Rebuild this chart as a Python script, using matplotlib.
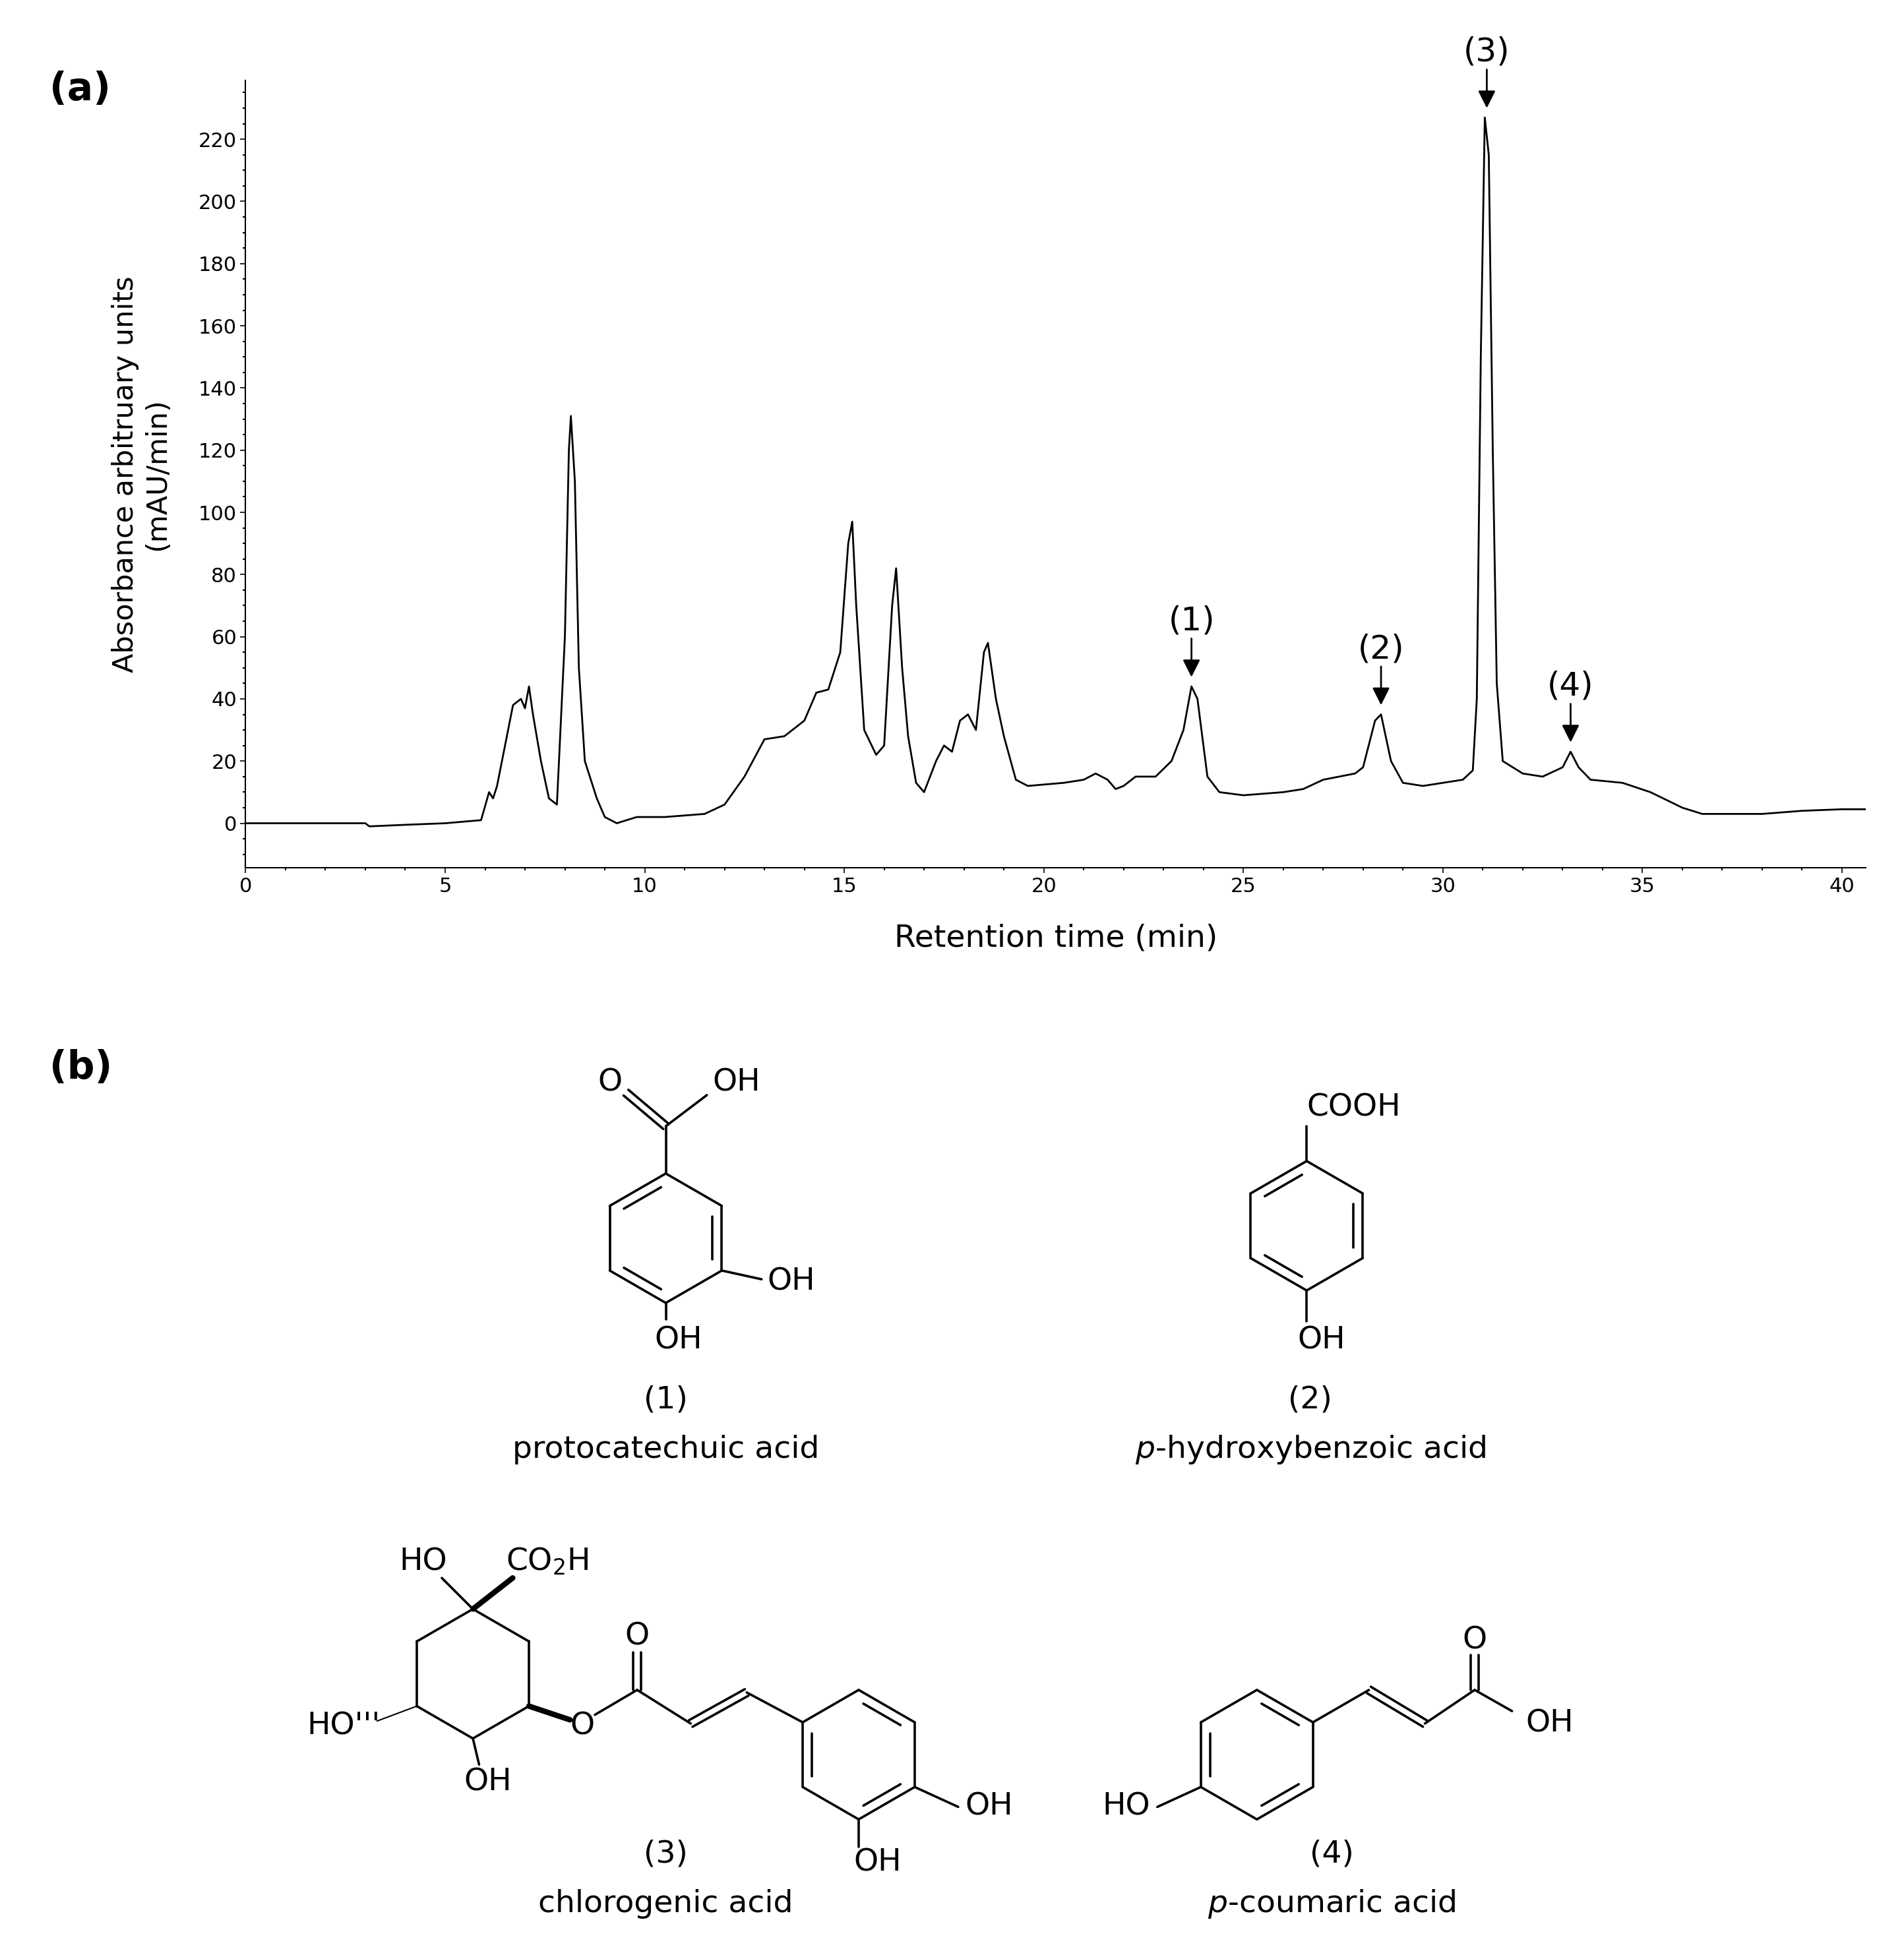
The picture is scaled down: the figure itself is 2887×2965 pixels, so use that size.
import matplotlib
matplotlib.use("Agg")
import matplotlib.pyplot as plt
import numpy as np

time_min = [0,3.0,3.1,4,5,5.9,6.1,6.2,6.3,6.5,6.7,6.9,7.0,7.1,7.2,7.4,7.6,7.8,8.0,8.1,8.15,8.25,8.35,8.5,8.8,9.0,9.3,9.8,10.5,11.5,12.0,12.5,13.0,13.5,14.0,14.3,14.6,14.9,15.1,15.2,15.3,15.5,15.8,16.0,16.2,16.3,16.45,16.6,16.8,17.0,17.3,17.5,17.7,17.9,18.1,18.3,18.5,18.6,18.8,19.0,19.3,19.6,20.5,21.0,21.3,21.6,21.8,22.0,22.3,22.8,23.2,23.5,23.7,23.85,24.1,24.4,25,26,26.5,27,27.4,27.8,28.0,28.3,28.45,28.7,29.0,29.5,30,30.5,30.75,30.85,30.95,31.05,31.15,31.25,31.35,31.5,32,32.5,33.0,33.2,33.4,33.7,34.5,35.2,36,36.5,38,39,40,40.6]
absorbance = [0,0,-1,-0.5,0,1,10,8,12,25,38,40,37,44,35,20,8,6,60,120,131,110,50,20,8,2,0,2,2,3,6,15,27,28,33,42,43,55,90,97,70,30,22,25,70,82,50,28,13,10,20,25,23,33,35,30,55,58,40,28,14,12,13,14,16,14,11,12,15,15,20,30,44,40,15,10,9,10,11,14,15,16,18,33,35,20,13,12,13,14,17,40,150,227,215,120,45,20,16,15,18,23,18,14,13,10,5,3,3,4,4.5,4.5]
peak_labels = ["(1)", "(2)", "(3)", "(4)"]
peak_times = [23.7, 28.45, 31.1, 33.2]
peak_tips = [47, 38, 230, 26]
peak_text_y = [60, 51, 243, 39]

W, H = 2887, 2965
fig = plt.figure(figsize=(W/100, H/100), dpi=100)
ax = fig.add_axes([0.129, 0.556, 0.851, 0.403])
ax.plot(time_min, absorbance, color="black", lw=2)
ax.set_xlim(0, 40.6)
ax.set_ylim(-14.4, 239)
for s in ["top", "right"]:
    ax.spines[s].set_visible(False)
ax.spines["left"].set_linewidth(1.5)
ax.spines["bottom"].set_linewidth(1.5)
ax.set_xticks(range(0, 41, 5))
ax.set_xticks(range(0, 41, 1), minor=True)
ax.set_yticks(range(0, 221, 20))
ax.set_yticks(range(-10, 236, 5), minor=True)
ax.tick_params(labelsize=22, length=6, width=1.2)
ax.tick_params(which="minor", length=3, width=1.5)
ax.set_xlabel("Retention time (min)", fontsize=34, labelpad=30)
ax.set_ylabel("Absorbance arbitruary units\n(mAU/min)", fontsize=31, labelpad=30)
for lab, t, tip, ty in zip(peak_labels, peak_times, peak_tips, peak_text_y):
    ax.annotate(lab, xy=(t, tip), xytext=(t, ty), ha="center", va="bottom", fontsize=36,
                annotation_clip=False,
                arrowprops=dict(arrowstyle="-|>", color="black", lw=2, mutation_scale=40,
                                shrinkA=0, shrinkB=0))

ov = fig.add_axes([0, 0, 1, 1])
ov.set_xlim(0, 1530); ov.set_ylim(1571, 0); ov.axis("off")
ov.patch.set_alpha(0)
fs = 34
ov.text(40, 72, "(a)", fontsize=42, fontweight="bold", va="center")
ov.text(40, 858, "(b)", fontsize=42, fontweight="bold", va="center")
LW = 2.6

def line(p, q, lw=LW):
    ov.plot([p[0], q[0]], [p[1], q[1]], color="black", lw=lw, solid_capstyle="round")

def ring(cx, cy, r=52, doubles=(0, 2, 4)):
    ang = np.deg2rad([-90, -30, 30, 90, 150, 210])
    pts = [(cx + r*np.cos(a), cy + r*np.sin(a)) for a in ang]
    for i in range(6):
        line(pts[i], pts[(i+1) % 6])
    for i in doubles:
        p, q = np.array(pts[i]), np.array(pts[(i+1) % 6])
        c = np.array([cx, cy])
        p2 = p + (c - p)*0.17; q2 = q + (c - q)*0.17
        d = (q2 - p2)*0.1
        line(p2 + d, q2 - d)
    return pts

def dbl(p, q, off=6):
    p, q = np.array(p, float), np.array(q, float)
    n = np.array([-(q-p)[1], (q-p)[0]]); n = n/np.linalg.norm(n)*off/2
    line(p+n, q+n); line(p-n, q-n)

# (1)
P = ring(535, 995, doubles=(1, 3, 5))
line(P[0], (535, 905)); dbl((535, 905), (503, 878)); line((535, 905), (568, 880))
ov.text(490, 870, "O", fontsize=fs, ha="center", va="center")
ov.text(592, 870, "OH", fontsize=fs, ha="center", va="center")
line(P[2], (612, 1028)); ov.text(636, 1030, "OH", fontsize=fs, ha="center", va="center")
line(P[3], (535, 1060)); ov.text(545, 1077, "OH", fontsize=fs, ha="center", va="center")
ov.text(535, 1125, "(1)", fontsize=fs, ha="center", va="center")
ov.text(535, 1165, "protocatechuic acid", fontsize=fs, ha="center", va="center")

# (2)
P = ring(1050, 985, doubles=(1, 3, 5))
line(P[0], (1050, 905)); ov.text(1088, 890, "COOH", fontsize=fs, ha="center", va="center")
line(P[3], (1050, 1062)); ov.text(1062, 1077, "OH", fontsize=fs, ha="center", va="center")
ov.text(1053, 1125, "(2)", fontsize=fs, ha="center", va="center")
ov.text(1053, 1165, r"$\it{p}$-hydroxybenzoic acid", fontsize=fs, ha="center", va="center")

# (3)
C = ring(380, 1345, doubles=())
line(C[0], (355, 1268)); line(C[0], (412, 1268), lw=6)
ov.text(340, 1255, "HO", fontsize=fs, ha="center", va="center")
ov.text(440, 1255, r"CO$_2$H", fontsize=fs, ha="center", va="center")
line(C[4], (303, 1383), lw=1.5); ov.text(276, 1387, "HO'''", fontsize=fs, ha="center", va="center")
line(C[3], (385, 1418)); ov.text(392, 1432, "OH", fontsize=fs, ha="center", va="center")
line(C[2], (458, 1382), lw=6)
ov.text(468, 1387, "O", fontsize=fs, ha="center", va="center")
line((478, 1378), (512, 1358)); dbl((512, 1358), (512, 1328))
ov.text(512, 1315, "O", fontsize=fs, ha="center", va="center")
line((512, 1358), (555, 1385)); dbl((555, 1385), (600, 1360)); line((600, 1360), (645, 1384))
A = ring(690, 1410, doubles=(0, 2, 4))
line(A[2], (770, 1452)); ov.text(795, 1452, "OH", fontsize=fs, ha="center", va="center")
line(A[3], (690, 1484)); ov.text(705, 1497, "OH", fontsize=fs, ha="center", va="center")
ov.text(535, 1490, "(3)", fontsize=fs, ha="center", va="center")
ov.text(535, 1530, "chlorogenic acid", fontsize=fs, ha="center", va="center")

# (4)
B = ring(1010, 1410, doubles=(0, 2, 4))
line(B[4], (930, 1452)); ov.text(905, 1452, "HO", fontsize=fs, ha="center", va="center")
line(B[1], (1100, 1358)); dbl((1100, 1358), (1145, 1385)); line((1145, 1385), (1185, 1358))
dbl((1185, 1358), (1185, 1330)); ov.text(1185, 1318, "O", fontsize=fs, ha="center", va="center")
line((1185, 1358), (1215, 1375)); ov.text(1245, 1385, "OH", fontsize=fs, ha="center", va="center")
ov.text(1070, 1490, "(4)", fontsize=fs, ha="center", va="center")
ov.text(1070, 1530, r"$\it{p}$-coumaric acid", fontsize=fs, ha="center", va="center")

fig.savefig("out.png", dpi=100)
